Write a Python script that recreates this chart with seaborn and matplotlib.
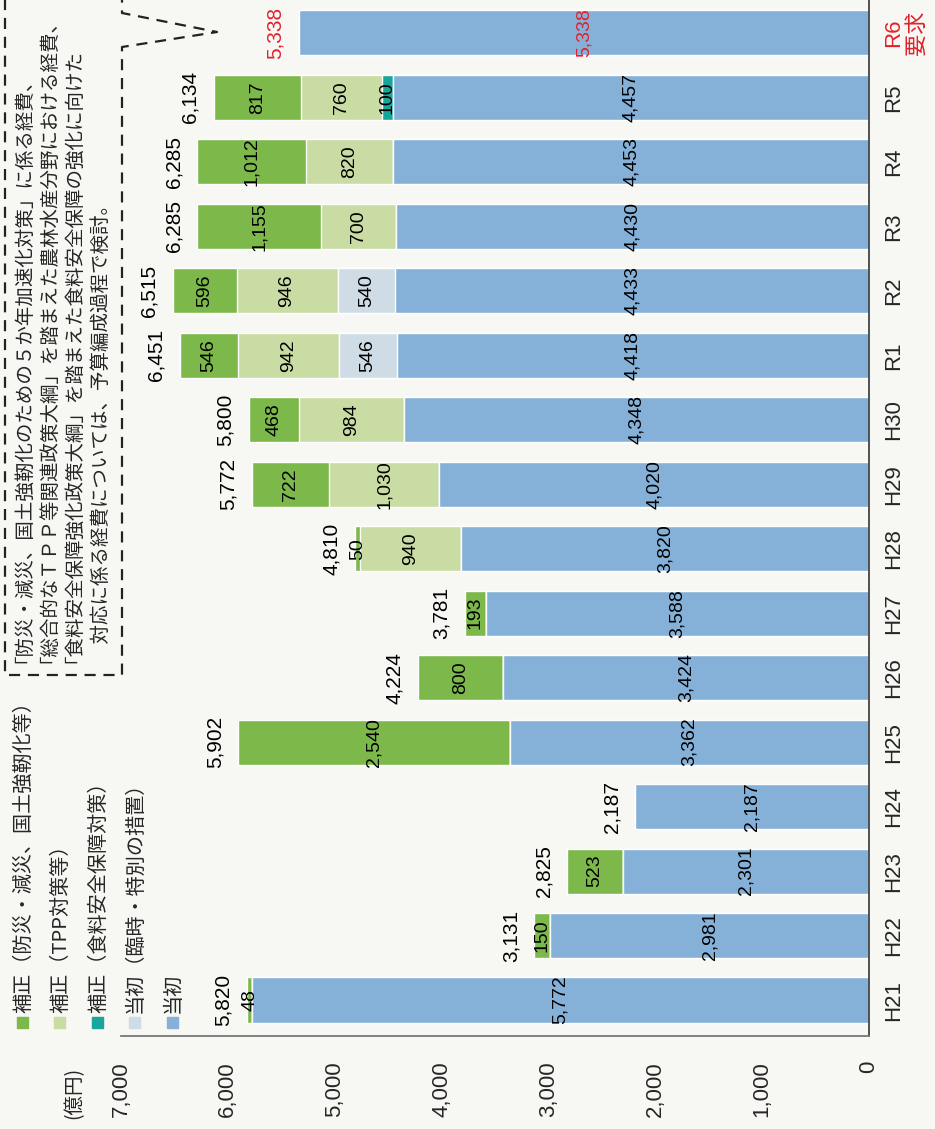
import matplotlib
matplotlib.use("Agg")
import matplotlib.pyplot as plt
from matplotlib.lines import Line2D
from matplotlib.patches import Rectangle
import seaborn as sns
import pandas as pd

# 年度 (R6 は概算要求)
years = ['H21', 'H22', 'H23', 'H24', 'H25', 'H26', 'H27', 'H28', 'H29', 'H30',
         'R1', 'R2', 'R3', 'R4', 'R5', 'R6\n要求']

# 億円
tousho = [5772, 2981, 2301, 2187, 3362, 3424, 3588, 3820, 4020, 4348,
          4418, 4433, 4430, 4453, 4457, 5338]
tousho_rinji = [0, 0, 0, 0, 0, 0, 0, 0, 0, 0, 546, 540, 0, 0, 0, 0]
hosei_food = [0, 0, 0, 0, 0, 0, 0, 0, 0, 0, 0, 0, 0, 0, 100, 0]
hosei_tpp = [0, 0, 0, 0, 0, 0, 0, 940, 1030, 984, 942, 946, 700, 820, 760, 0]
hosei_bousai = [48, 150, 523, 0, 2540, 800, 193, 50, 722, 468, 546, 596, 1155, 1012, 817, 0]
totals = [5820, 3131, 2825, 2187, 5902, 4224, 3781, 4810, 5772, 5800,
          6451, 6515, 6285, 6285, 6134, 5338]

value_ticks = [0, 1000, 2000, 3000, 4000, 5000, 6000, 7000]

legend_labels = ['補正（防災・減災、国土強靭化等）', '補正（TPP対策等）', '補正（食料安全保障対策）',
                 '当初（臨時・特別の措置）', '当初']

note_lines = ['「防災・減災、国土強靭化のための５か年加速化対策」に係る経費、',
              '「総合的なＴＰＰ等関連政策大綱」を踏まえた農林水産分野における経費、',
              '「食料安全保障強化政策大綱」を踏まえた食料安全保障の強化に向けた',
              '　対応に係る経費については、予算編成過程で検討。']

c_bousai = '#7cb84a'
c_tpp = '#c9dca3'
c_food = '#17a59c'
c_rinji = '#cfdce6'
c_tousho = '#85b1d8'
red = '#e2212c'
bg = '#f7f7f3'
jp = ['Noto Sans CJK JP']

sns.set_style('white')
plt.rcParams['font.family'] = ['Liberation Sans', 'Noto Sans CJK JP']

W, H = 935, 1129
fig = plt.figure(figsize=(W / 100, H / 100), dpi=100, facecolor=bg)
ax = fig.add_axes([121 / W, 1 - 1036 / H, 748 / W, 1036 / H])
ax.set_facecolor(bg)

# stacked bars: draw cumulative sums, top layer first
series = [tousho, tousho_rinji, hosei_food, hosei_tpp, hosei_bousai]
colors = [c_tousho, c_rinji, c_food, c_tpp, c_bousai]
cum = []
run = [0] * len(years)
for s in series:
    run = [a + b for a, b in zip(run, s)]
    cum.append(run)

for vals, col in reversed(list(zip(cum, colors))):
    df = pd.DataFrame({'year': years, 'value': vals})
    sns.barplot(data=df, x='value', y='year', order=years, orient='y',
                color=col, saturation=1, width=0.7, ax=ax)

ax.set_xlim(7000, 0)
ax.set_ylim(-0.558, 15.51)
ax.set_xlabel('')
ax.set_ylabel('')

# segment labels and totals
for i in range(len(years)):
    txt_col = red if i == len(years) - 1 else 'black'
    left = 0
    for s in series:
        v = s[i]
        if v > 0:
            ax.text(left + v / 2, i, f'{v:,}', rotation=90, ha='center', va='center',
                    fontsize=14, color=txt_col)
        left += v
    ax.annotate(f'{totals[i]:,}', xy=(left, i), xytext=(-17, 0), textcoords='offset points',
                rotation=90, ha='center', va='center', fontsize=15, color=txt_col)

# axes styling
ax.set_xticks(value_ticks)
ax.set_xticklabels([f'{t:,}' for t in value_ticks], rotation=90, fontsize=16)
ax.tick_params(axis='x', length=5, width=1.2, pad=13, direction='out', color='#666666')
ax.yaxis.tick_right()
ax.tick_params(axis='y', length=0, pad=10)
for lab in ax.get_yticklabels():
    lab.set_rotation(90)
    lab.set_fontsize(16)
    lab.set_va('center')
    lab.set_multialignment('center')
ax.get_yticklabels()[-1].set_color(red)

ax.spines['left'].set_visible(False)
ax.spines['top'].set_visible(False)
ax.spines['right'].set_color('#444444')
ax.spines['right'].set_linewidth(1.3)
ax.spines['bottom'].set_color('#777777')
ax.spines['bottom'].set_linewidth(1.3)
ax.grid(False)

# unit
fig.text(74 / W, 1 - 1093 / H, '(億円)', rotation=90, ha='center', va='center',
         fontsize=14, family=jp)

# legend (rotated with the page)
leg_colors = [c_bousai, c_tpp, c_food, c_rinji, c_tousho]
leg_x = [22, 59, 97, 134, 172]
for x, col, lab in zip(leg_x, leg_colors, legend_labels):
    fig.patches.append(Rectangle(((x - 5.5) / W, 1 - 1028 / H), 11 / W, 11 / H,
                                 transform=fig.transFigure, color=col))
    fig.text((x + 7) / W, 1 - 1013 / H, lab, rotation=90, rotation_mode='anchor',
             ha='left', va='baseline', fontsize=14.5, family=jp)

# dashed callout box with pointer toward R6
def fp(px, py):
    return px / W, 1 - py / H

dash = dict(color='#222222', lw=1.6, linestyle=(0, (5, 3.5)))
box = [(5, -5), (5, 675), (122, 675), (122, 47), (217, 32), (122, 13), (122, -5)]
xs, ys = zip(*[fp(px, py) for px, py in box])
fig.add_artist(Line2D(xs, ys, transform=fig.transFigure, **dash))

# lines with 「」 sit lower in the layout box, so their anchors are set by eye
for x, line in zip([19, 44, 69, 107], note_lines):
    fig.text(x / W, 1 - 663 / H, line, rotation=90, rotation_mode='anchor',
             ha='left', va='baseline', fontsize=14, family=jp)

fig.savefig('out.png', dpi=100, facecolor=fig.get_facecolor())
